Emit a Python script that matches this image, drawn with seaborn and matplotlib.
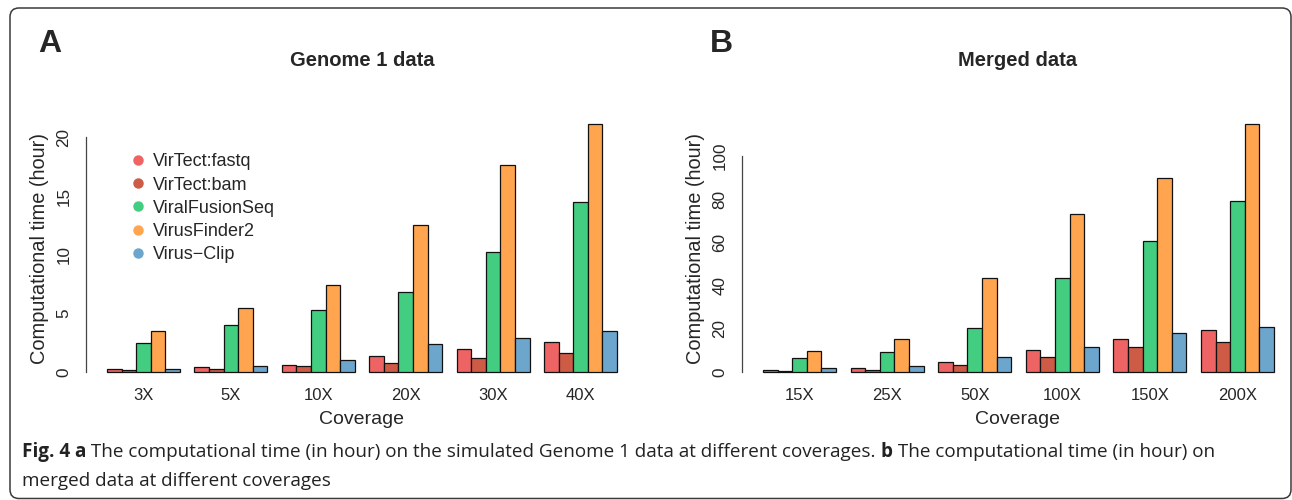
import numpy as np
import pandas as pd
import matplotlib
matplotlib.use("Agg")
import matplotlib.pyplot as plt
import seaborn as sns
from matplotlib.lines import Line2D
from matplotlib.patches import FancyBboxPatch
from matplotlib.transforms import IdentityTransform

# ---------------- data ----------------
tools = ["VirTect:fastq", "VirTect:bam", "ViralFusionSeq", "VirusFinder2", "Virus\u2212Clip"]
colors = ["#EE6363", "#CD5B45", "#43CD80", "#FFA54F", "#6CA6CD"]

genome1_cov = ["3X", "5X", "10X", "20X", "30X", "40X"]
g1_fastq = [0.3, 0.4, 0.6, 1.4, 2.0, 2.6]
g1_bam = [0.2, 0.3, 0.5, 0.8, 1.2, 1.6]
g1_vfs = [2.5, 4.0, 5.3, 6.8, 10.2, 14.5]
g1_vf2 = [3.5, 5.5, 7.4, 12.5, 17.6, 21.1]
g1_clip = [0.3, 0.5, 1.0, 2.4, 2.9, 3.5]
g1_yticks = [0, 5, 10, 15, 20]

merged_cov = ["15X", "25X", "50X", "100X", "150X", "200X"]
m_fastq = [1.2, 2.0, 4.8, 10.0, 15.3, 19.3]
m_bam = [0.6, 1.2, 3.2, 6.8, 11.4, 13.9]
m_vfs = [6.3, 9.1, 20.4, 43.4, 60.5, 79.2]
m_vf2 = [9.6, 15.3, 43.8, 73.0, 89.8, 114.7]
m_clip = [1.85, 2.6, 6.9, 11.4, 17.9, 20.8]
m_yticks = [0, 20, 40, 60, 80, 100]

# ---------------- style ----------------
sns.set_style("white")
plt.rcParams["font.family"] = ["Liberation Sans", "DejaVu Sans"]

W, H = 1292, 500
fig = plt.figure(figsize=(W / 100, H / 100), dpi=100)

AX_BOTTOM_PX, AX_TOP_PX = 382.0, 114.5


def px_axes(left_px, right_px):
    return fig.add_axes([left_px / W, (H - AX_BOTTOM_PX) / H,
                         (right_px - left_px) / W, (AX_BOTTOM_PX - AX_TOP_PX) / H])


def panel(ax, cov, series, yticks, xlim, title):
    rows = []
    for tool, vals in zip(tools, series):
        for c, v in zip(cov, vals):
            rows.append({"Coverage": c, "Time": v, "Tool": tool})
    df = pd.DataFrame(rows)
    sns.barplot(data=df, x="Coverage", y="Time", hue="Tool", order=cov,
                hue_order=tools, palette=colors, width=5 / 6, gap=0,
                saturation=1, edgecolor="#111111", linewidth=0.9,
                ax=ax, legend=False, errorbar=None)
    ymax = max(max(s) for s in series)
    ax.set_ylim(-0.04 * ymax, 1.04 * ymax)
    ax.set_xlim(*xlim)
    for s in ["top", "right", "bottom"]:
        ax.spines[s].set_visible(False)
    ax.spines["left"].set_bounds(yticks[0], yticks[-1])
    ax.spines["left"].set_color("#444444")
    ax.spines["left"].set_linewidth(0.9)
    ax.set_yticks(yticks)
    ax.set_yticklabels([str(t) for t in yticks])
    ax.tick_params(axis="y", length=4.4, width=0.9, color="#444444",
                   labelsize=12.3, pad=6.0, labelrotation=90)
    for lab in ax.get_yticklabels():
        lab.set_va("center")
    ax.tick_params(axis="x", length=0, labelsize=12, pad=4.0)
    ax.set_xlabel("Coverage", fontsize=14, labelpad=6)
    ax.set_ylabel("Computational time (hour)", fontsize=14.4)
    ax.text(0.5, (AX_BOTTOM_PX - 60) / (AX_BOTTOM_PX - AX_TOP_PX), title,
            transform=ax.transAxes, ha="center", va="center",
            fontsize=14.5, fontweight="bold")
    ax.set_facecolor("none")


ax1 = px_axes(86, 638)
panel(ax1, genome1_cov, [g1_fastq, g1_bam, g1_vfs, g1_vf2, g1_clip],
      g1_yticks, (-0.657, 5.657), "Genome 1 data")
ax1.yaxis.set_label_coords((49 - 86) / 552, 0.5)

ax2 = px_axes(742, 1292)
panel(ax2, merged_cov, [m_fastq, m_bam, m_vfs, m_vf2, m_clip],
      m_yticks, (-0.657, -0.657 + 550 / 87.6), "Merged data")
ax2.yaxis.set_label_coords((705 - 742) / 550, 0.5)

# panel letters
fig.text(38 / W, (H - 52) / H, "A", fontsize=23, fontweight="bold", va="baseline")
fig.text(710 / W, (H - 52) / H, "B", fontsize=23, fontweight="bold", va="baseline")

# legend
handles = [Line2D([0], [0], marker="o", linestyle="none", markersize=6.5,
                  markerfacecolor=c, markeredgecolor=c) for c in colors]
fig.legend(handles, tools, loc="upper left",
           bbox_to_anchor=(128.5 / W, (H - 153.5) / H),
           bbox_transform=fig.transFigure, frameon=False, fontsize=13,
           handlelength=1.0, handletextpad=0.36, labelspacing=0.34,
           borderpad=0, borderaxespad=0)

# border
border = FancyBboxPatch((10, 1.5), 1281, 500 - 8 - 1.5,
                        boxstyle="round,pad=0,rounding_size=9",
                        transform=IdentityTransform(), fill=False,
                        edgecolor="#3a3a3a", linewidth=1.1)
fig.patches.append(border)

# caption
cap_font = ["Open Sans", "DejaVu Sans"]
cap_color = "#222222"
line1 = [("Fig. 4 a", "bold"),
         (" The computational time (in hour) on the simulated Genome 1 data at different coverages. ", "normal"),
         ("b", "bold"),
         (" The computational time (in hour) on", "normal")]
line2 = [("merged data at different coverages", "normal")]

renderer = fig.canvas.get_renderer()


def measure(parts, size):
    total = 0
    for txt, wt in parts:
        t = fig.text(0, 0, txt, fontsize=size, fontweight=wt, family=cap_font)
        total += t.get_window_extent(renderer).width
        t.remove()
    return total


base = 12.0
target = 1214 - 22
size = base * target / measure(line1, base)


def draw_line(parts, x_px, base_px, size):
    x = x_px
    for txt, wt in parts:
        t = fig.text(x / W, (H - base_px) / H, txt, fontsize=size, fontweight=wt,
                     family=cap_font, color=cap_color, va="baseline", ha="left")
        x += t.get_window_extent(renderer).width


draw_line(line1, 22, 457, size)
draw_line(line2, 22, 486, size)

fig.savefig("out.png", dpi=100)
